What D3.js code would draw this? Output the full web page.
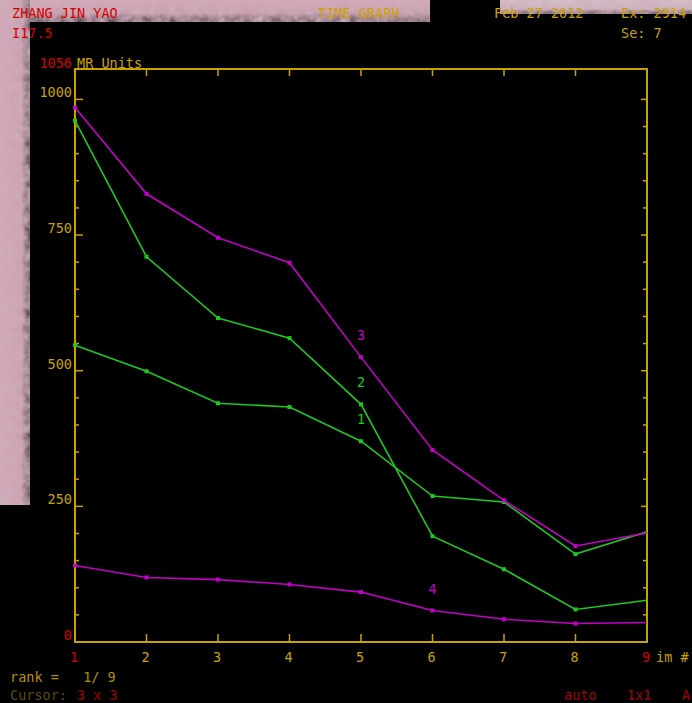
<!DOCTYPE html>
<html>
<head>
<meta charset="utf-8">
<script src="https://cdn.jsdelivr.net/npm/d3@7"></script>
<style>
  html, body { margin: 0; padding: 0; background: #000; }
  svg { display: block; }
  text { font-family: "DejaVu Sans Mono", "Liberation Mono", monospace; font-size: 13.5px; white-space: pre; }
</style>
</head>
<body>
<div id="chart"></div>
<script>
// image numbers on the x axis
const imageNums = [1, 2, 3, 4, 5, 6, 7, 8, 9];
// MR signal per curve
const curve1 = [547, 499, 440, 433, 370, 269, 258, 162, 203];
const curve2 = [961, 710, 597, 560, 438, 195, 134, 60, 77];
const curve3 = [985, 826, 745, 699, 525, 354, 261, 177, 201];
const curve4 = [141, 119, 115, 106, 92, 58, 42, 34, 36];
const curveNames = ["1", "2", "3", "4"];
const labelAt = [5, 5, 5, 6];
const yMax = 1056;
const yMajorTicks = [0, 250, 500, 750, 1000];
const yMinorTicks = [50, 100, 150, 200, 300, 350, 400, 450, 550, 600, 650, 700, 800, 850, 900, 950];

const W = 692, H = 703;
const gold = "#c9a300", red = "#d40000", green = "#1ec81e", magenta = "#c400c8";
const margin = {top: 69, right: 45, bottom: 61, left: 75};

const svg = d3.select("#chart").append("svg")
    .attr("width", W)
    .attr("height", H);

svg.append("rect").attr("width", W).attr("height", H).attr("fill", "#000");

// textured pink film background at the edges
const defs = svg.append("defs");
const tex = defs.append("filter").attr("id", "tex").attr("x", 0).attr("y", 0).attr("width", 1).attr("height", 1);
tex.append("feTurbulence").attr("type", "fractalNoise").attr("baseFrequency", "0.12").attr("numOctaves", 3).attr("seed", 4).attr("result", "noise");
tex.append("feColorMatrix").attr("in", "noise").attr("type", "matrix")
    .attr("values", "0 0 0 0 0.62  0 0 0 0 0.42  0 0 0 0 0.50  0 0 0 -1.1 1.1")
    .attr("result", "dark");
tex.append("feComposite").attr("in", "dark").attr("in2", "SourceGraphic").attr("operator", "in").attr("result", "spots");
tex.append("feMerge").selectAll("feMergeNode").data(["SourceGraphic", "spots"]).join("feMergeNode").attr("in", d => d);

const fadeRight = defs.append("linearGradient").attr("id", "fadeRight");
fadeRight.append("stop").attr("offset", "0%").attr("stop-color", "#d4a7b6");
fadeRight.append("stop").attr("offset", "72%").attr("stop-color", "#c89aaa");
fadeRight.append("stop").attr("offset", "100%").attr("stop-color", "#000");

const fadeDown = defs.append("linearGradient").attr("id", "fadeDown").attr("x2", 0).attr("y2", 1);
fadeDown.append("stop").attr("offset", "0%").attr("stop-color", "#d4a7b6");
fadeDown.append("stop").attr("offset", "60%").attr("stop-color", "#c497a6");
fadeDown.append("stop").attr("offset", "100%").attr("stop-color", "#000");

const fadeDownGrey = defs.append("linearGradient").attr("id", "fadeDownGrey").attr("x2", 0).attr("y2", 1);
fadeDownGrey.append("stop").attr("offset", "0%").attr("stop-color", "#d9c8d0");
fadeDownGrey.append("stop").attr("offset", "65%").attr("stop-color", "#cbb6c0");
fadeDownGrey.append("stop").attr("offset", "100%").attr("stop-color", "#000");

svg.append("rect").attr("x", 0).attr("y", 0).attr("width", 430).attr("height", 22)
    .attr("fill", "url(#fadeDown)").attr("filter", "url(#tex)");
svg.append("rect").attr("x", 500).attr("y", 0).attr("width", 192).attr("height", 14)
    .attr("fill", "url(#fadeDownGrey)").attr("filter", "url(#tex)");
svg.append("rect").attr("x", 0).attr("y", 0).attr("width", 30).attr("height", 505)
    .attr("fill", "url(#fadeRight)").attr("filter", "url(#tex)");

const x = d3.scaleLinear()
    .domain([1, 9])
    .range([margin.left, W - margin.right]);

const y = d3.scaleLinear()
    .domain([0, yMax])
    .range([H - margin.bottom, margin.top]);

const g = svg.append("g");

// frame
g.append("rect")
    .attr("x", x(1)).attr("y", y(yMax))
    .attr("width", x(9) - x(1)).attr("height", y(0) - y(yMax))
    .attr("fill", "none").attr("stroke", gold).attr("stroke-width", 2);

// y ticks (both sides, pointing in)
const yTicks = yMajorTicks.concat(yMinorTicks).map(v => ({v: v, major: yMajorTicks.includes(v)}));
g.selectAll("line.ytl").data(yTicks).join("line")
    .attr("x1", x(1)).attr("x2", d => x(1) + (d.major ? 8 : 4))
    .attr("y1", d => y(d.v)).attr("y2", d => y(d.v))
    .attr("stroke", gold).attr("stroke-width", 1.5);
g.selectAll("line.ytr").data(yTicks).join("line")
    .attr("x1", x(9)).attr("x2", d => x(9) - (d.major ? 6 : 4))
    .attr("y1", d => y(d.v)).attr("y2", d => y(d.v))
    .attr("stroke", gold).attr("stroke-width", 1.5);

// x ticks top and bottom
g.selectAll("line.xtt").data(imageNums).join("line")
    .attr("x1", d => x(d)).attr("x2", d => x(d))
    .attr("y1", y(yMax)).attr("y2", y(yMax) + 7)
    .attr("stroke", gold).attr("stroke-width", 1.5);
g.selectAll("line.xtb").data(imageNums.slice(1, -1)).join("line")
    .attr("x1", d => x(d)).attr("x2", d => x(d))
    .attr("y1", y(0)).attr("y2", y(0) - 8)
    .attr("stroke", gold).attr("stroke-width", 1.5);

// y labels
g.selectAll("text.yl").data(yMajorTicks).join("text")
    .attr("x", x(1) - 3).attr("y", d => y(d) - 2)
    .attr("text-anchor", "end")
    .attr("fill", d => d === 0 ? red : gold)
    .text(d => d);
g.append("text").attr("x", x(1) - 3).attr("y", y(yMax) - 1)
    .attr("text-anchor", "end").attr("fill", red).text(yMax);
g.append("text").attr("x", x(1) + 2).attr("y", y(yMax) - 1)
    .attr("fill", gold).text("MR Units");

// x labels
g.selectAll("text.xl").data(imageNums).join("text")
    .attr("x", d => x(d) - 1).attr("y", y(0) + 20)
    .attr("text-anchor", "middle")
    .attr("fill", (d, i) => (i === 0 || i === imageNums.length - 1) ? red : gold)
    .text(d => d);
g.append("text").attr("x", x(9) + 9).attr("y", y(0) + 20)
    .attr("fill", gold).text("im #");

// curves
const series = [
    {name: curveNames[0], values: curve1, color: green, at: labelAt[0]},
    {name: curveNames[1], values: curve2, color: green, at: labelAt[1]},
    {name: curveNames[2], values: curve3, color: magenta, at: labelAt[2]},
    {name: curveNames[3], values: curve4, color: magenta, at: labelAt[3]}
];

const line = d3.line()
    .x((d, i) => x(imageNums[i]))
    .y(d => y(d));

const sg = g.selectAll("g.series").data(series).join("g");

sg.append("path")
    .attr("d", d => line(d.values))
    .attr("fill", "none")
    .attr("stroke", d => d.color)
    .attr("stroke-width", 1.6);

sg.selectAll("rect")
    .data(d => d.values.slice(0, -1).map((v, i) => ({v: v, i: i, c: d.color})))
    .join("rect")
    .attr("x", d => x(imageNums[d.i]) - 2).attr("y", d => y(d.v) - 2)
    .attr("width", 4).attr("height", 4)
    .attr("fill", d => d.c);

sg.append("text")
    .attr("x", d => x(d.at))
    .attr("y", d => y(d.values[d.at - 1]) - 17)
    .attr("text-anchor", "middle")
    .attr("fill", d => d.color)
    .text(d => d.name);

// header / footer text
const info = [
    {t: "ZHANG JIN YAO", x: 12, y: 18, c: red},
    {t: "I17.5", x: 12, y: 38, c: red},
    {t: "TIME GRAPH", x: 318, y: 18, c: gold},
    {t: "Feb 27 2012", x: 494, y: 18, c: gold},
    {t: "Ex: 2914", x: 621, y: 18, c: gold},
    {t: "Se: 7", x: 621, y: 38, c: gold},
    {t: "rank =   1/ 9", x: 10, y: 682, c: "#b39200"},
    {t: "Cursor:", x: 10, y: 700, c: "#5e4c0c"},
    {t: "3 x 3", x: 77, y: 700, c: "#a00000"},
    {t: "auto", x: 564, y: 700, c: "#a80000"},
    {t: "1x1", x: 627, y: 700, c: "#a80000"},
    {t: "A", x: 682, y: 700, c: "#a80000"}
];
svg.selectAll("text.info").data(info).join("text")
    .attr("x", d => d.x).attr("y", d => d.y)
    .attr("fill", d => d.c)
    .text(d => d.t);
</script>
</body>
</html>
